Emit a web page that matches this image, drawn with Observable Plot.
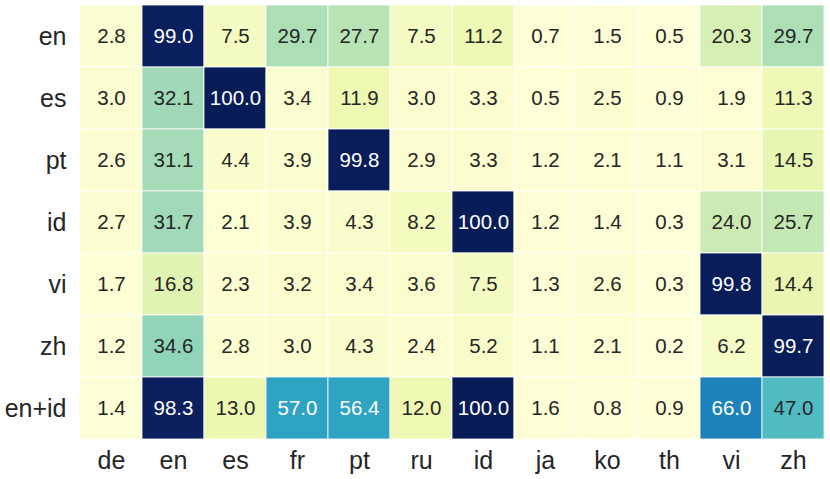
<!DOCTYPE html>
<html>
<head>
<meta charset="utf-8">
<script src="https://cdn.jsdelivr.net/npm/d3@7"></script>
<script src="https://cdn.jsdelivr.net/npm/@observablehq/plot@0.6"></script>
<style>
  html, body { margin: 0; padding: 0; background: #fff; }
  #chart svg { display: block; }
</style>
</head>
<body>
<div id="chart"></div>
<script>
const rows = ["en", "es", "pt", "id", "vi", "zh", "en+id"];
const cols = ["de", "en", "es", "fr", "pt", "ru", "id", "ja", "ko", "th", "vi", "zh"];
const values_en   = [2.8, 99.0, 7.5, 29.7, 27.7, 7.5, 11.2, 0.7, 1.5, 0.5, 20.3, 29.7];
const values_es   = [3.0, 32.1, 100.0, 3.4, 11.9, 3.0, 3.3, 0.5, 2.5, 0.9, 1.9, 11.3];
const values_pt   = [2.6, 31.1, 4.4, 3.9, 99.8, 2.9, 3.3, 1.2, 2.1, 1.1, 3.1, 14.5];
const values_id   = [2.7, 31.7, 2.1, 3.9, 4.3, 8.2, 100.0, 1.2, 1.4, 0.3, 24.0, 25.7];
const values_vi   = [1.7, 16.8, 2.3, 3.2, 3.4, 3.6, 7.5, 1.3, 2.6, 0.3, 99.8, 14.4];
const values_zh   = [1.2, 34.6, 2.8, 3.0, 4.3, 2.4, 5.2, 1.1, 2.1, 0.2, 6.2, 99.7];
const values_enid = [1.4, 98.3, 13.0, 57.0, 56.4, 12.0, 100.0, 1.6, 0.8, 0.9, 66.0, 47.0];
const matrix = [values_en, values_es, values_pt, values_id, values_vi, values_zh, values_enid];

const palette = ["#ffffd9","#edf8b1","#c7e9b4","#7fcdbb","#41b6c4","#1d91c0","#225ea8","#253494","#081d58"];

const data = [];
rows.forEach((r, i) => cols.forEach((c, j) => data.push({row: r, col: c, value: matrix[i][j]})));

const vmin = d3.min(data, d => d.value), vmax = d3.max(data, d => d.value);
const domain = palette.map((_, i) => vmin + i * (vmax - vmin) / (palette.length - 1));

const chart = Plot.plot({
  width: 830,
  height: 479,
  marginLeft: 76,
  marginRight: 2,
  marginTop: 3,
  marginBottom: 38,
  style: {fontFamily: "'Liberation Sans', Arial, sans-serif", color: "#262626", background: "#fff"},
  x: {domain: cols, padding: 0, label: null},
  y: {domain: rows, padding: 0, label: null},
  color: {type: "linear", domain, range: palette, interpolate: "rgb"},
  marks: [
    Plot.cell(data, {x: "col", y: "row", fill: "value", stroke: "white", strokeWidth: 0.8}),
    Plot.text(data, {x: "col", y: "row", text: d => d.value.toFixed(1), fontSize: 20.5,
      fill: d => d.value > 50 ? "white" : "#262626"}),
    Plot.axisX({anchor: "bottom", tickSize: 0, tickPadding: 10, fontSize: 25, label: null}),
    Plot.axisY({anchor: "left", tickSize: 0, tickPadding: 10, fontSize: 25, label: null})
  ]
});
document.getElementById("chart").appendChild(chart);
</script>
</body>
</html>
